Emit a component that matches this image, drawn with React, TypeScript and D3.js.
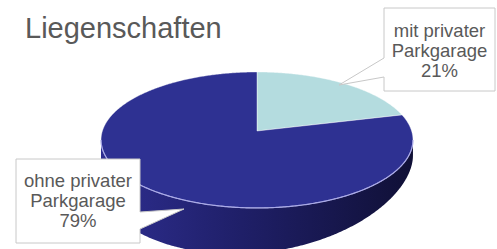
import * as React from 'react';
import * as d3 from "d3";

// chart data
const categories = ["mit privater Parkgarage", "ohne privater Parkgarage"];
const labelLines = [["mit privater", "Parkgarage"], ["ohne privater", "Parkgarage"]];
const values = [21, 79];
const title = "Liegenschaften";

const topColors = ["#b4dcdf", "#2e3192"];

// layout of the 3d pie (perspective projection of a disc)
const W = 497, H = 249;
const CX = 257, CY = 131;
const A = 154.6, B = 66.8, P = 0.132;

// callout boxes: [left, top, right, bottom], pointer base on box edge and tip
const callouts = [
    { box: [384, 8, 495, 91], path: (b: number[]) => `M${b[0]},${b[1]}H${b[2]}V${b[3]}H${b[0]}V77L339,85L${b[0]},58Z`, cx: 439.5, y0: 37 },
    { box: [16, 159, 140, 243], path: (b: number[]) => `M${b[0]},${b[1]}H${b[2]}V212L184,209L${b[2]},229V${b[3]}H${b[0]}Z`, cx: 78, y0: 187 },
];

function proj(a: number, r = 1, drop = 0): [number, number] {
    const u = r * Math.sin(a), v = -r * Math.cos(a);
    const den = 1 - P * v;
    return [CX + A * u / den, CY + B * v / den + drop];
}

// side height, a little taller towards the front left (camera slightly left)
function depth(a: number) {
    const v = Math.max(0, -Math.cos(a));
    return 30 + 15 * v * v - 15 * Math.sin(a);
}

function sample(a0: number, a1: number) {
    const n = Math.max(2, Math.ceil(Math.abs(a1 - a0) / 0.01));
    return d3.range(n + 1).map(i => a0 + (a1 - a0) * i / n);
}

export default function App() {
    const pie = d3.pie<number>().sort(null).startAngle(0).endAngle(2 * Math.PI);
    const arcs = pie(values);
    const total = d3.sum(values);
    const pct = d3.format(".0%");
    const line = d3.line<[number, number]>();

    const aR = Math.acos(-P), aL = 2 * Math.PI - aR;
    const front = sample(aR, aL);
    const sidePts: [number, number][] = [
        ...front.map(a => proj(a)),
        ...front.slice().reverse().map(a => proj(a, 1, depth(a))),
    ];

    return (
        <div style={{ position: "absolute", left: 0, top: 0 }}>
            <svg width={W} height={H} style={{ display: "block", fontFamily: "'Liberation Sans', Arial, sans-serif" }}>
                <defs>
                    <linearGradient id="side" x1="0" x2="1" y1="0" y2="0">
                        <stop offset="0" stopColor="#2e2e90" />
                        <stop offset="0.45" stopColor="#1f1f68" />
                        <stop offset="1" stopColor="#101036" />
                    </linearGradient>
                </defs>
                <rect width={W} height={H} fill="#fff" />
                <text x={25} y={37.5} fontSize={29} fill="#595959">{title}</text>

                <path d={(line(sidePts) || "") + "Z"} fill="url(#side)" />

                {arcs.map((s, i) => {
                    const pts: [number, number][] = [[CX, CY], ...sample(s.startAngle, s.endAngle).map(a => proj(a))];
                    return <path key={categories[i]} d={(line(pts) || "") + "Z"} fill={topColors[i]}
                        stroke="#ffffff" strokeOpacity={0.5} strokeWidth={0.8} strokeLinejoin="round" />;
                })}

                <path d={line(front.map(a => proj(a))) || undefined} fill="none" stroke="#a9a9e8" strokeWidth={1.2} />

                {callouts.map((c, i) => (
                    <g key={i}>
                        <path d={c.path(c.box)} fill="#fff" stroke="#c8c8c8" strokeWidth={1} />
                        {[...labelLines[i], pct(values[i] / total)].map((t, j) => (
                            <text key={j} x={c.cx} y={c.y0 + j * 20} fontSize={18.5} fill="#595959" textAnchor="middle">{t}</text>
                        ))}
                    </g>
                ))}
            </svg>
        </div>
    );
}
